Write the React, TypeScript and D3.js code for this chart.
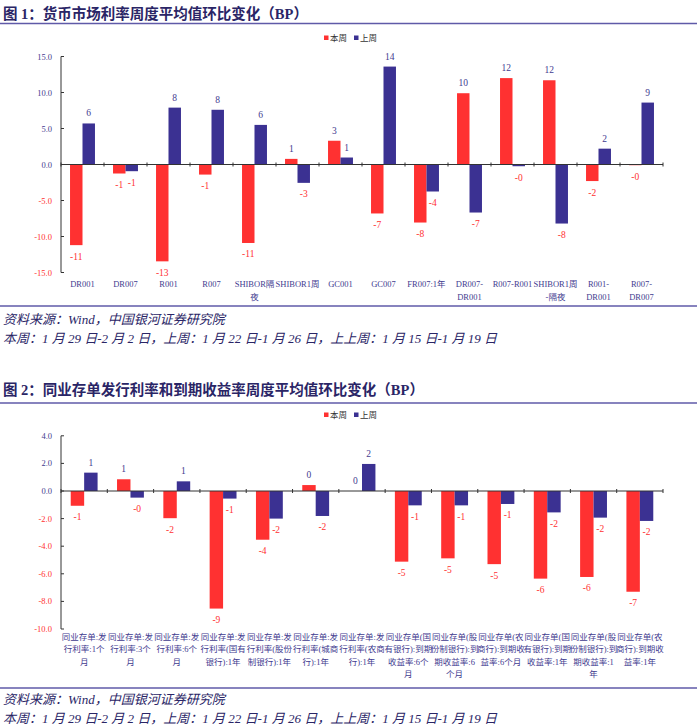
import React from "react";
import * as d3 from "d3";

const RED = "#FF3131";
const NAVY = "#3B3192";
const TXT = "#3F3B8F";
const TITLE = "#2A2566";
const RULE = "#5F5AA8";

const titles = [
  "图 1：货币市场利率周度平均值环比变化（BP）",
  "图 2：同业存单发行利率和到期收益率周度平均值环比变化（BP）",
];
const seriesNames = ["本周", "上周"];
const sourceLine = "资料来源：Wind，中国银河证券研究院";
const periodLine = "本周：1 月 29 日-2 月 2 日，上周：1 月 22 日-1 月 26 日，上上周：1 月 15 日-1 月 19 日";

const cats1: string[][] = [
  ["DR001"], ["DR007"], ["R001"], ["R007"], ["SHIBOR隔", "夜"], ["SHIBOR1周"],
  ["GC001"], ["GC007"], ["FR007:1年"], ["DR007-", "DR001"], ["R007-R001"],
  ["SHIBOR1周", "-隔夜"], ["R001-", "DR001"], ["R007-", "DR007"],
];
const thisWeek1 = [-11.2, -1.25, -13.45, -1.4, -10.9, 0.78, 3.3, -6.8, -8.06, 9.9, 12.0, 11.7, -2.3, -0.1];
const lastWeek1 = [5.7, -0.93, 7.9, 7.6, 5.5, -2.55, 0.97, 13.6, -3.75, -6.67, -0.24, -8.2, 2.2, 8.6];
const yTicks1 = [15, 10, 5, 0, -5, -10, -15];

const cats2: string[][] = [
  ["同业存单:发", "行利率:1个", "月"],
  ["同业存单:发", "行利率:3个", "月"],
  ["同业存单:发", "行利率:6个", "月"],
  ["同业存单:发", "行利率(国有", "银行):1年"],
  ["同业存单:发", "行利率(股份", "制银行):1年"],
  ["同业存单:发", "行利率(城商", "行):1年"],
  ["同业存单:发", "行利率(农商", "行):1年"],
  ["同业存单(国", "有银行):到期", "收益率:6个", "月"],
  ["同业存单(股", "份制银行):到", "期收益率:6", "个月"],
  ["同业存单(农", "商行):到期收", "益率:6个月"],
  ["同业存单(国", "有银行):到期", "收益率:1年"],
  ["同业存单(股", "份制银行):到", "期收益率:1", "年"],
  ["同业存单(农", "商行):到期收", "益率:1年"],
];
const thisWeek2 = [-1.07, 0.85, -1.97, -8.52, -3.53, 0.43, 0, -5.12, -4.88, -5.3, -6.35, -6.23, -7.3];
const lastWeek2 = [1.33, -0.48, 0.7, -0.55, -2.0, -1.81, 1.96, -1.04, -1.04, -0.94, -1.55, -1.93, -2.17];
const yTicks2 = [4, 2, 0, -2, -4, -6, -8, -10];

const fmtLabel = (v: number) => {
  const r = Math.round(v);
  if (r === 0) return v < 0 ? "-0" : "0";
  return String(r);
};
const fmtTick = (v: number) => v.toFixed(1);

const SERIF = "'Liberation Serif', 'Noto Sans CJK SC', serif";
const CJK = "'Noto Sans CJK SC', sans-serif";

type ChartProps = {
  title: string;
  cats: string[][];
  cur: number[];
  prev: number[];
  ticks: number[];
  titleY: number;
  ruleY: number;
  legendY: number;
  yTop: number;
  yBottom: number;
  labelY: number;
  labelLH: number;
  sepY: number;
  srcY: number;
};

function Chart(p: ChartProps) {
  const left = 61;
  const right = 663;
  const domain = d3.extent(p.ticks) as [number, number];
  const y = d3.scaleLinear().domain(domain).range([p.yBottom, p.yTop]);
  const x0 = d3.scaleBand<number>().domain(p.cats.map((_, i) => i)).range([left, right]);
  const bw = x0.bandwidth();
  const x1 = d3.scaleBand<string>().domain(["cur", "prev"]).range([bw * 0.21, bw * 0.79]);
  const y0 = y(0);
  const series = [
    { key: "cur", vals: p.cur, color: RED },
    { key: "prev", vals: p.prev, color: NAVY },
  ];
  return (
    <g>
      <text x={3} y={p.titleY} fontFamily={SERIF} fontWeight={700} fontSize={14.5} fill={TITLE}>
        {p.title}
      </text>
      <line x1={0} x2={697} y1={p.ruleY} y2={p.ruleY} stroke={RULE} strokeWidth={1.5} />
      {series.map((s, i) => (
        <g key={s.key} transform={`translate(${324 + i * 30},${p.legendY})`}>
          <rect x={0} y={-2.5} width={4.5} height={4.5} fill={s.color} />
          <text x={6} y={3} fontFamily={CJK} fontSize={8.5} fill="#333">
            {seriesNames[i]}
          </text>
        </g>
      ))}
      {series.map((s) =>
        s.vals.map((v, i) => (
          <rect
            key={s.key + i}
            x={(x0(i) as number) + (x1(s.key) as number)}
            width={x1.bandwidth()}
            y={Math.min(y(v), y0)}
            height={Math.abs(y(v) - y0)}
            fill={s.color}
          />
        ))
      )}
      <line x1={left} x2={left} y1={p.yTop} y2={p.yBottom} stroke="#333" strokeWidth={1} />
      {p.ticks.map((t) => (
        <g key={"yt" + t}>
          <line x1={left} x2={left + 3} y1={y(t)} y2={y(t)} stroke="#333" strokeWidth={1} />
          <text
            x={52}
            y={y(t) + 3}
            textAnchor="end"
            fontFamily={SERIF}
            fontSize={8.5}
            fill={t < 0 ? RED : TXT}
          >
            {fmtTick(t)}
          </text>
        </g>
      ))}
      <line x1={left} x2={right} y1={y0} y2={y0} stroke="#333" strokeWidth={1} />
      {d3.range(p.cats.length + 1).map((k) => {
        const xx = k === p.cats.length ? right : (x0(k) as number);
        return <line key={"xt" + k} x1={xx} x2={xx} y1={y0 - 2} y2={y0 + 2} stroke="#333" strokeWidth={1} />;
      })}
      {series.map((s) =>
        s.vals.map((v, i) => {
          const cx = (x0(i) as number) + (x1(s.key) as number) + x1.bandwidth() / 2;
          const ly = v >= 0 ? y(v) - 7 : y(v) + 14.5;
          return (
            <text
              key={"l" + s.key + i}
              x={cx}
              y={ly}
              textAnchor="middle"
              fontFamily={SERIF}
              fontSize={9.5}
              fill={v < 0 ? RED : TXT}
            >
              {fmtLabel(v)}
            </text>
          );
        })
      )}
      {p.cats.map((lines, i) => (
        <text
          key={"c" + i}
          x={(x0(i) as number) + bw / 2}
          y={p.labelY}
          textAnchor="middle"
          fontFamily={SERIF}
          fontSize={8.5}
          fill={TXT}
        >
          {lines.map((ln, j) => (
            <tspan key={j} x={(x0(i) as number) + bw / 2} dy={j === 0 ? 0 : p.labelLH}>
              {ln}
            </tspan>
          ))}
        </text>
      ))}
      <line x1={0} x2={697} y1={p.sepY} y2={p.sepY} stroke={RULE} strokeWidth={1.5} />
      <text x={3} y={p.srcY} fontFamily={SERIF} fontStyle="italic" fontSize={13} fill={TITLE}>
        {sourceLine}
      </text>
      <text x={3} y={p.srcY + 19} fontFamily={SERIF} fontStyle="italic" fontSize={13} fill={TITLE}>
        {periodLine}
      </text>
    </g>
  );
}

export default function App() {
  return (
    <div style={{ position: "absolute", left: 0, top: 0, width: 700, height: 727, background: "#fff" }}>
      <svg width={700} height={727} viewBox="0 0 700 727">
        <rect width={700} height={727} fill="#fff" />
        <Chart
          title={titles[0]}
          cats={cats1}
          cur={thisWeek1}
          prev={lastWeek1}
          ticks={yTicks1}
          titleY={18.5}
          ruleY={23.5}
          legendY={38}
          yTop={56.5}
          yBottom={272.5}
          labelY={287}
          labelLH={13}
          sepY={306}
          srcY={323.5}
        />
        <Chart
          title={titles[1]}
          cats={cats2}
          cur={thisWeek2}
          prev={lastWeek2}
          ticks={yTicks2}
          titleY={395}
          ruleY={403}
          legendY={415}
          yTop={435.8}
          yBottom={629}
          labelY={639.5}
          labelLH={12.5}
          sepY={688}
          srcY={704}
        />
      </svg>
    </div>
  );
}
